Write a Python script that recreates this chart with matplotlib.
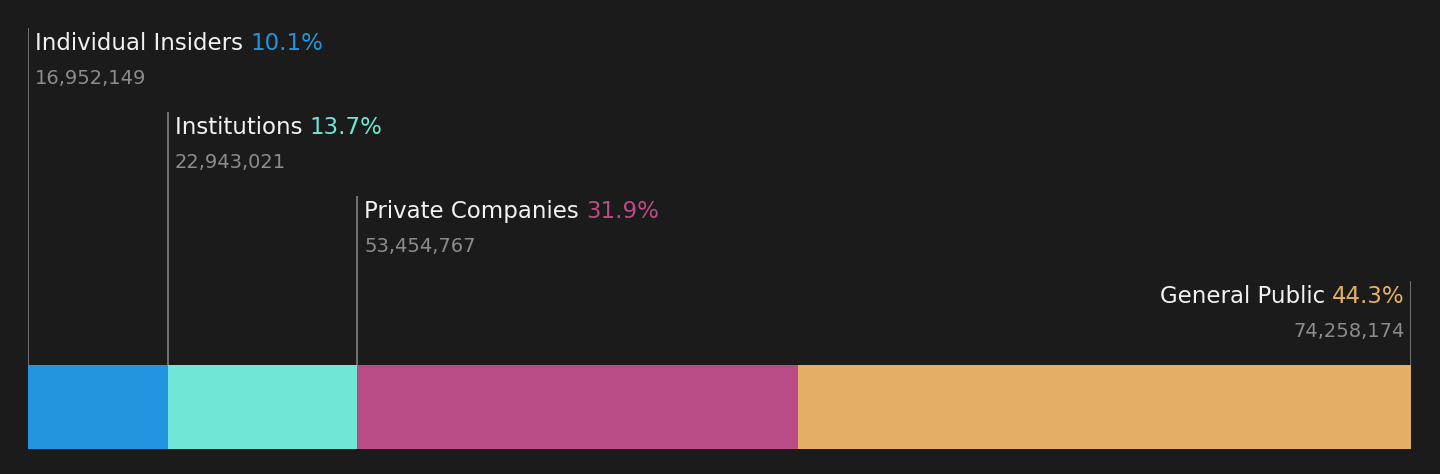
import numpy as np
import matplotlib.pyplot as plt

plt.switch_backend('agg')
plt.rcParams['font.family'] = ['DejaVu Sans']

# DATA
categories = ['Individual Insiders', 'Institutions', 'Private Companies', 'General Public']
shares = [16952149, 22943021, 53454767, 74258174]
colors = ['#2394DF', '#6FE6D6', '#B94B87', '#E4AF64']

BG = '#1b1b1b'
total = sum(shares)
pcts = [s / total * 100 for s in shares]
starts = np.concatenate([[0], np.cumsum(shares)[:-1]])

fig = plt.figure(figsize=(14.4, 4.74), dpi=100, facecolor=BG)
ax = fig.add_axes([28 / 1440, 25 / 474, 1383 / 1440, 421 / 474])
ax.set_facecolor(BG)
ax.set_xlim(0, total)
ax.set_ylim(0, 5)
ax.axis('off')

# stacked bar
ax.barh(0.5, shares, left=starts, height=1, color=colors, linewidth=0)

n = len(shares)
for i in range(n):
    top = n + 1 - i  # 5, 4, 3, 2
    last = i == n - 1
    xline = total if last else starts[i]
    ax.plot([xline, xline], [1, top], color='#7a7a7a', lw=1.3, solid_capstyle='butt')
    if not last:
        lab = ax.annotate(categories[i] + ' ', xy=(xline, top), xytext=(7, -22),
                          textcoords='offset pixels', ha='left', va='baseline',
                          fontsize=16.5, color='#f2f2f2')
        ax.annotate(f'{pcts[i]:.1f}%', xy=(1, 0), xycoords=lab, ha='left', va='bottom',
                    fontsize=16.5, color=colors[i])
        ax.annotate(f'{shares[i]:,}', xy=(xline, top), xytext=(7, -56),
                    textcoords='offset pixels', ha='left', va='baseline',
                    fontsize=14, color='#8c8c8c')
    else:
        pct = ax.annotate(f'{pcts[i]:.1f}%', xy=(xline, top), xytext=(-6, -22),
                          textcoords='offset pixels', ha='right', va='baseline',
                          fontsize=16.5, color=colors[i])
        ax.annotate(categories[i] + ' ', xy=(0, 0), xycoords=pct, ha='right', va='bottom',
                    fontsize=16.5, color='#f2f2f2')
        ax.annotate(f'{shares[i]:,}', xy=(xline, top), xytext=(-6, -56),
                    textcoords='offset pixels', ha='right', va='baseline',
                    fontsize=14, color='#8c8c8c')

plt.savefig('out.png', dpi=100, facecolor=BG)
